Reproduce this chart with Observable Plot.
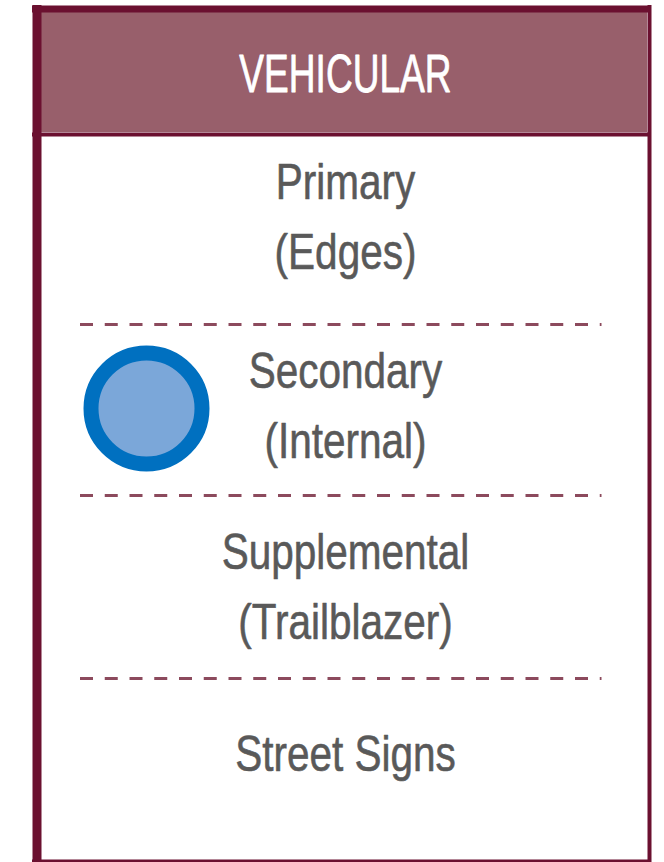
<!DOCTYPE html>
<html><head><meta charset="utf-8">
<script src="https://cdn.jsdelivr.net/npm/d3@7"></script>
<script src="https://cdn.jsdelivr.net/npm/@observablehq/plot@0.6"></script>
<style>html,body{margin:0;padding:0;background:#fff}</style>
</head><body><div id="chart"></div>
<script>
// ---- content ----
const title = "VEHICULAR";
const categories = ["Primary\n(Edges)", "Secondary\n(Internal)", "Supplemental\n(Trailblazer)", "Street Signs"];
const markedCategory = "Secondary\n(Internal)";

// ---- layout (pixels) ----
const W = 664, H = 862;
const rowCenters = [211.5, 400, 581.5, 748.5];
const dividers = [324, 495, 678];
const textX = 345;
const font = "'Liberation Sans', Arial, sans-serif";
const dark = "#6b1030", headerFill = "#985f6b", dashColor = "#8c4a5d", gray = "#595959";
const titleSquash = 0.70, labelSquash = 0.81;

const plot = Plot.plot({
  width: W, height: H, margin: 0,
  x: {domain: [0, W], range: [0, W], axis: null},
  y: {domain: [0, H], range: [0, H], axis: null},
  style: {background: "white", overflow: "visible"},
  marks: [
    Plot.rect([title], {x1: 41, x2: 647, y1: 12, y2: 132, fill: headerFill}),
    Plot.ruleY(dividers, {x1: 80, x2: 601.5, stroke: dashColor, strokeWidth: 3, strokeDasharray: "13,11.75"}),
    Plot.ruleX([36.5], {y1: 5, y2: 862, stroke: dark, strokeWidth: 9}),
    Plot.ruleX([649], {y1: 5, y2: 862, stroke: dark, strokeWidth: 4}),
    Plot.ruleY([8.5], {x1: 32, x2: 651, stroke: dark, strokeWidth: 7}),
    Plot.ruleY([134], {x1: 32, x2: 651, stroke: dark, strokeWidth: 4}),
    Plot.ruleY([860.5], {x1: 32, x2: 651, stroke: dark, strokeWidth: 3}),
    Plot.text([title], {x: textX, y: 75, text: d => d, fill: "white", stroke: "white", strokeWidth: 0.8, fontSize: 53, fontFamily: font}),
    Plot.text(categories, {x: textX, y: (d, i) => rowCenters[i], text: d => d, fill: gray, stroke: gray, strokeWidth: 0.6, fontSize: 50, lineHeight: 1.4, fontFamily: font}),
    Plot.dot([markedCategory], {x: 146, y: d => rowCenters[categories.indexOf(d)] + 8, r: 55.5, fill: "#7ba7d9", stroke: "#0070c0", strokeWidth: 15})
  ]
});
plot.querySelectorAll("text").forEach(t => {
  const k = t.textContent === title ? titleSquash : labelSquash;
  t.setAttribute("transform", t.getAttribute("transform") + ` scale(${k},1)`);
});
document.getElementById("chart").appendChild(plot);
</script>
</body></html>
